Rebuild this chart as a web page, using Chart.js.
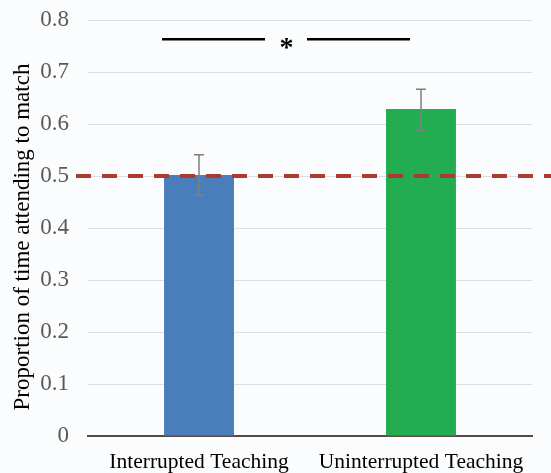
<!DOCTYPE html>
<html>
<head>
<meta charset="utf-8">
<script src="https://cdn.jsdelivr.net/npm/chart.js@4"></script>
<style>
  html, body { margin: 0; padding: 0; background: #fbfcfd; }
  #wrap { width: 551px; height: 473px; }
</style>
</head>
<body>
<div id="wrap"><canvas id="chart" width="551" height="473"></canvas></div>
<script>
const categories = ["Interrupted Teaching", "Uninterrupted Teaching"];
const means = [0.502, 0.629];
const errLow = [0.463, 0.588];
const errHigh = [0.541, 0.667];
const barColors = ["#4a7ebb", "#23ad50"];
const chanceLevel = 0.5;
const sigLevel = 0.763;
const yTicks = [0, 0.1, 0.2, 0.3, 0.4, 0.5, 0.6, 0.7, 0.8];
const yTitle = "Proportion of time attending to match";

// error bars, chance line, significance mark and y title
const extras = {
  id: "extras",
  afterDatasetsDraw(chart) {
    const ctx = chart.ctx;
    const x = chart.scales.x, y = chart.scales.y;
    ctx.save();

    // error bars
    ctx.strokeStyle = "#7f7f7f";
    ctx.lineWidth = 1.5;
    means.forEach((m, i) => {
      const cx = x.getPixelForValue(i);
      const yt = y.getPixelForValue(errHigh[i]);
      const yb = y.getPixelForValue(errLow[i]);
      ctx.beginPath();
      ctx.moveTo(cx, yt); ctx.lineTo(cx, yb);
      ctx.moveTo(cx - 5, yt); ctx.lineTo(cx + 5, yt);
      ctx.moveTo(cx - 5, yb); ctx.lineTo(cx + 5, yb);
      ctx.stroke();
    });

    // chance line
    const yc = y.getPixelForValue(chanceLevel);
    ctx.strokeStyle = "#ad3a30";
    ctx.lineWidth = 4;
    ctx.setLineDash([15, 11]);
    ctx.beginPath();
    ctx.moveTo(76, yc);
    ctx.lineTo(chart.width, yc);
    ctx.stroke();
    ctx.setLineDash([]);

    // significance
    const ys = y.getPixelForValue(sigLevel);
    const x0 = x.getPixelForValue(0), x1 = x.getPixelForValue(1);
    const mid = (x0 + x1) / 2;
    ctx.strokeStyle = "#000";
    ctx.lineWidth = 2.5;
    ctx.beginPath();
    ctx.moveTo(x0 - 37, ys); ctx.lineTo(mid - 45, ys);
    ctx.moveTo(mid - 3, ys); ctx.lineTo(x1 - 11, ys);
    ctx.stroke();
    ctx.fillStyle = "#000";
    ctx.font = "bold 28px 'Liberation Serif'";
    ctx.textAlign = "center";
    ctx.textBaseline = "middle";
    ctx.fillText("*", mid - 23.5, ys + 10);

    // y title (sits a little below the middle of the axis)
    ctx.translate(23, y.getPixelForValue(0.4) + 9);
    ctx.rotate(-Math.PI / 2);
    ctx.font = "23px 'Liberation Serif'";
    ctx.fillText(yTitle, 0, 0);
    ctx.restore();
  }
};

new Chart(document.getElementById("chart"), {
  type: "bar",
  data: {
    labels: categories,
    datasets: [{
      data: means,
      backgroundColor: barColors,
      barPercentage: 0.63,
      categoryPercentage: 0.5
    }]
  },
  options: {
    responsive: false,
    animation: false,
    layout: { padding: { top: 20, right: 19, left: 0, bottom: 0 } },
    plugins: { legend: { display: false }, tooltip: { enabled: false } },
    scales: {
      x: {
        afterFit: s => { s.height = 37; s.paddingLeft = 0; s.paddingRight = 0; },
        grid: { display: false },
        border: { color: "#5a4a45", width: 2 },
        ticks: { color: "#000", padding: 5, font: { family: "Liberation Serif", size: 21.5 } }
      },
      y: {
        min: 0, max: 0.8,
        afterFit: s => { s.width = 88; s.paddingTop = 0; s.paddingBottom = 0; },
        afterBuildTicks: s => { s.ticks = yTicks.map(v => ({ value: v })); },
        grid: { color: "#dcdfe2", drawTicks: false },
        border: { display: false },
        ticks: {
          color: "#595959", padding: 19,
          font: { family: "Liberation Serif", size: 23 },
          callback: v => String(v)
        }
      }
    }
  },
  plugins: [extras]
});
</script>
</body>
</html>
